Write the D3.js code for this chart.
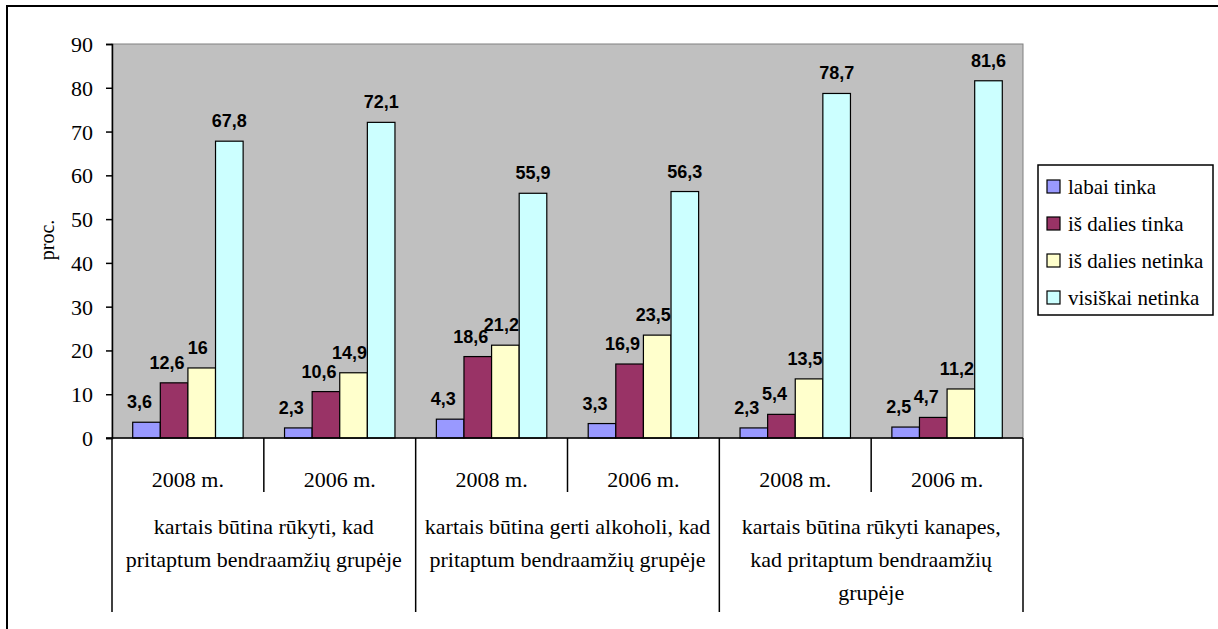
<!DOCTYPE html>
<html>
<head>
    <meta charset="utf-8">
    <title>Column chart</title>
    <script src="https://d3js.org/d3.v7.min.js"></script>
    <style>
        body { margin: 0; background: #fff; }
        .serif { font-family: 'Liberation Serif', 'Times New Roman', serif; fill: #000; }
        .val { font-family: 'Liberation Sans', Arial, sans-serif; font-weight: bold; font-size: 18px; fill: #000; }
    </style>
</head>
<body>
<script>
    var groups = [
        ["kartais būtina rūkyti, kad", "pritaptum bendraamžių grupėje"],
        ["kartais būtina gerti alkoholi, kad", "pritaptum bendraamžių grupėje"],
        ["kartais būtina rūkyti kanapes,", "kad pritaptum bendraamžių", "grupėje"]
    ];
    var years = ["2008 m.", "2006 m."];
    var series = ["labai tinka", "iš dalies tinka", "iš dalies netinka", "visiškai netinka"];
    var colors = ["#9999ff", "#993366", "#ffffcc", "#ccffff"];
    var values = [
        [3.6, 2.3, 4.3, 3.3, 2.3, 2.5],
        [12.6, 10.6, 18.6, 16.9, 5.4, 4.7],
        [16, 14.9, 21.2, 23.5, 13.5, 11.2],
        [67.8, 72.1, 55.9, 56.3, 78.7, 81.6]
    ];
    var yTicks = [0, 10, 20, 30, 40, 50, 60, 70, 80, 90];

    var W = 1218, H = 629;
    var plotL = 112, plotR = 1023, plotT = 44, plotB = 438;

    var svg = d3.select("body").append("svg")
        .attr("width", W)
        .attr("height", H);

    // outer border (runs off the right and bottom edges like the original)
    svg.append("rect")
        .attr("x", 7).attr("y", 6)
        .attr("width", 1300).attr("height", 700)
        .attr("fill", "none").attr("stroke", "#000").attr("stroke-width", 2);

    var cats = [];
    groups.forEach(function(g, gi) {
        years.forEach(function(yr, yi) { cats.push(gi + "-" + yi); });
    });

    var x0 = d3.scaleBand().domain(cats).range([plotL, plotR]);
    var bw = x0.bandwidth();
    var barW = bw / 5.5;
    var x1 = d3.scaleBand().domain(d3.range(series.length))
        .range([barW * 0.75, bw - barW * 0.75]);
    var y = d3.scaleLinear().domain([0, 90]).range([plotB, plotT]);

    // plot area
    svg.append("rect")
        .attr("x", plotL).attr("y", plotT)
        .attr("width", plotR - plotL).attr("height", plotB - plotT)
        .attr("fill", "#c0c0c0").attr("stroke", "#808080");

    // bars
    var data = [];
    values.forEach(function(row, si) {
        row.forEach(function(v, ci) { data.push({ s: si, c: cats[ci], v: v }); });
    });

    svg.append("g").selectAll("rect")
        .data(data)
        .enter().append("rect")
        .attr("x", function(d) { return x0(d.c) + x1(d.s); })
        .attr("y", function(d) { return y(d.v); })
        .attr("width", x1.bandwidth())
        .attr("height", function(d) { return plotB - y(d.v); })
        .attr("fill", function(d) { return colors[d.s]; })
        .attr("stroke", "#000").attr("stroke-width", 1.2);

    var shift = [-7, -7, -4, 0];
    svg.append("g").selectAll("text")
        .data(data)
        .enter().append("text")
        .attr("class", "val")
        .attr("text-anchor", "middle")
        .attr("x", function(d) { return x0(d.c) + x1(d.s) + x1.bandwidth() / 2 + shift[d.s]; })
        .attr("y", function(d) { return y(d.v) - 14; })
        .text(function(d) { return String(d.v).replace(".", ","); });

    // y axis
    var yAxis = d3.axisLeft(y).tickValues(yTicks).tickSize(6).tickPadding(13);
    var ya = svg.append("g").attr("transform", "translate(" + plotL + ",0)").call(yAxis);
    ya.attr("font-family", null).attr("font-size", null);
    ya.select(".domain").attr("stroke", "#000").attr("stroke-width", 1.5);
    ya.selectAll(".tick line").attr("stroke", "#000").attr("stroke-width", 1.5);
    ya.selectAll(".tick text").attr("class", "serif").style("font-size", "22px").attr("dy", "0.34em");

    svg.append("text")
        .attr("class", "serif")
        .style("font-size", "20px")
        .attr("text-anchor", "middle")
        .attr("transform", "translate(54,240) rotate(-90)")
        .text("proc.");

    // category axis
    var axisG = svg.append("g").attr("stroke", "#000").attr("stroke-width", 1.5);
    axisG.append("line").attr("x1", plotL - 6).attr("x2", plotR).attr("y1", plotB).attr("y2", plotB);
    x0.domain().forEach(function(c, i) {
        var xs = x0(c);
        var longLine = (i % 2 === 0);
        axisG.append("line")
            .attr("x1", xs).attr("x2", xs)
            .attr("y1", plotB).attr("y2", longLine ? 612 : 492);
    });
    axisG.append("line").attr("x1", plotR).attr("x2", plotR).attr("y1", plotB).attr("y2", 612);

    svg.append("g").selectAll("text")
        .data(cats)
        .enter().append("text")
        .attr("class", "serif")
        .style("font-size", "22px")
        .attr("text-anchor", "middle")
        .attr("x", function(c) { return x0(c) + bw / 2; })
        .attr("y", 487)
        .text(function(c) { return years[+c.split("-")[1]]; });

    groups.forEach(function(lines, gi) {
        var cx = x0(gi + "-0") + bw;
        var t = svg.append("text")
            .attr("class", "serif")
            .style("font-size", "22px")
            .attr("text-anchor", "middle");
        lines.forEach(function(l, li) {
            t.append("tspan").attr("x", cx).attr("y", 534 + li * 33).text(l);
        });
    });

    // legend
    var lg = svg.append("g");
    lg.append("rect")
        .attr("x", 1038).attr("y", 165).attr("width", 175).attr("height", 150)
        .attr("fill", "#fff").attr("stroke", "#000").attr("stroke-width", 1.5);
    series.forEach(function(s, i) {
        var cy = 187 + i * 37;
        lg.append("rect")
            .attr("x", 1047).attr("y", cy - 7).attr("width", 13).attr("height", 13)
            .attr("fill", colors[i]).attr("stroke", "#000").attr("stroke-width", 1.2);
        lg.append("text")
            .attr("class", "serif")
            .style("font-size", "21px")
            .attr("x", 1068).attr("y", cy + 7)
            .text(s);
    });
</script>
</body>
</html>
